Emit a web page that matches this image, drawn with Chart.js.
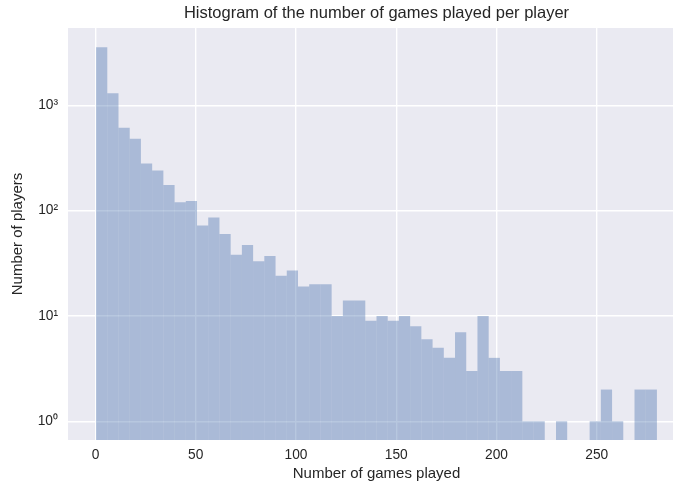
<!DOCTYPE html>
<html>
<head>
<meta charset="utf-8">
<script src="https://cdn.jsdelivr.net/npm/chart.js@4.4.0/dist/chart.umd.min.js"></script>
<style>
  html, body { margin: 0; padding: 0; background: #ffffff; overflow: hidden; }
  canvas { display: block; }
</style>
</head>
<body>
<canvas id="hist" width="685" height="487"></canvas>
<script>
// Histogram: 50 equal-width bins of games played per player
const binStart = 0.3;
const binEnd = 280;
const binCount = 50;
const playerCounts = [
  3550, 1300, 610, 480, 280, 240, 175, 120, 123, 72,
  86, 60, 38, 47, 33, 37, 24, 27, 19, 20,
  20, 10, 14, 14, 9, 10, 9, 10, 8, 6,
  5, 4, 7, 3, 10, 4, 3, 3, 1, 1,
  0, 1, 0, 0, 1, 2, 1, 0, 2, 2
];
const xTickValues = [0, 50, 100, 150, 200, 250];
const yTickValues = [1, 10, 100, 1000];
const superscripts = { '0': '⁰', '1': '¹', '2': '²', '3': '³', '4': '⁴' };

const binWidth = (binEnd - binStart) / binCount;
const barPoints = playerCounts.map((c, i) => ({ x: binStart + (i + 0.5) * binWidth, y: c }));

const FONT = "'Liberation Sans', Arial, sans-serif";
const TEXT = '#262626';

const panelBackground = {
  id: 'panelBackground',
  beforeDraw(chart) {
    const { ctx, chartArea: a } = chart;
    ctx.save();
    ctx.fillStyle = '#ffffff';
    ctx.fillRect(0, 0, chart.width, chart.height);
    ctx.fillStyle = '#EAEAF2';
    ctx.fillRect(a.left, a.top, a.right - a.left, a.bottom - a.top);
    ctx.restore();
  }
};

new Chart(document.getElementById('hist'), {
  type: 'bar',
  data: {
    datasets: [{
      data: barPoints,
      backgroundColor: 'rgba(76, 114, 176, 0.4)',
      borderWidth: 0,
      inflateAmount: 0,
      barPercentage: 1,
      categoryPercentage: 1
    }]
  },
  options: {
    responsive: false,
    animation: false,
    devicePixelRatio: 1,
    layout: { padding: 0 },
    plugins: {
      legend: { display: false },
      tooltip: { enabled: false },
      title: {
        display: true,
        text: 'Histogram of the number of games played per player',
        fullSize: false,
        color: TEXT,
        font: { family: FONT, size: 16.5, weight: 'normal', lineHeight: 1.2 },
        padding: { top: 4, bottom: 4.2 }
      }
    },
    scales: {
      x: {
        type: 'linear',
        offset: false,
        min: -13.7,
        max: 294,
        afterBuildTicks(scale) { scale.ticks = xTickValues.map(v => ({ value: v })); },
        afterFit(scale) { scale.height = 47; },
        ticks: {
          color: TEXT,
          font: { family: FONT, size: 13.75 },
          padding: 7,
          autoSkip: false,
          maxRotation: 0,
          callback: v => String(v)
        },
        grid: { color: '#ffffff', lineWidth: 1.4, drawTicks: false, offset: false },
        border: { display: false },
        title: {
          display: true,
          text: 'Number of games played',
          color: TEXT,
          font: { family: FONT, size: 15, lineHeight: 1.2 },
          padding: { top: 0, bottom: 4 }
        }
      },
      y: {
        type: 'logarithmic',
        min: 0.664,
        max: 5410,
        afterBuildTicks(scale) { scale.ticks = yTickValues.map(v => ({ value: v })); },
        afterFit(scale) { scale.width = 68; },
        ticks: {
          color: TEXT,
          font: { family: FONT, size: 13.75 },
          padding: 10,
          autoSkip: false,
          callback: v => '10' + String(Math.round(Math.log10(v))).split('').map(d => superscripts[d]).join('')
        },
        grid: { color: '#ffffff', lineWidth: 1.4, drawTicks: false },
        border: { display: false },
        title: {
          display: true,
          text: 'Number of players',
          color: TEXT,
          font: { family: FONT, size: 15, lineHeight: 1.2 },
          padding: { top: 9, bottom: 0 }
        }
      }
    }
  },
  plugins: [panelBackground]
});
</script>
</body>
</html>
